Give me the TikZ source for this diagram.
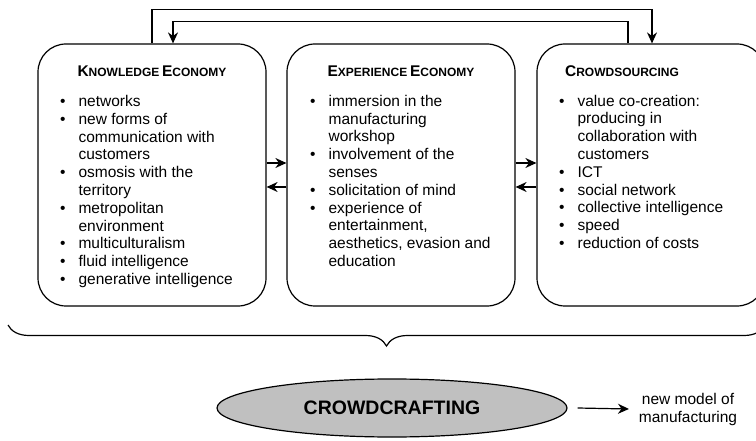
\documentclass[tikz,border=0pt]{standalone}
\usepackage{fontspec}
\setmainfont{Liberation Sans}
\usetikzlibrary{positioning,shapes.geometric,arrows.meta,decorations.pathreplacing}
\definecolor{craftgray}{HTML}{C0C0C0}
\newcommand{\fsc}[2]{{\fontsize{15.5}{18}\selectfont #1}{\fontsize{12}{18}\selectfont #2}}
\newcommand{\itm}{\llap{\textbullet\hspace{13pt}}}
\begin{document}
\begin{tikzpicture}[x=1pt, y=-1pt, line width=1.2pt, >={Stealth[length=11pt,width=10pt]},
    area/.style = {draw, rounded corners=28pt, minimum width=228pt, minimum height=262pt},
    head/.style = {font=\bfseries, anchor=base, inner sep=0pt},
    items/.style = {font=\fontsize{15.5}{17.8}\selectfont, align=left, anchor=base west, inner sep=0pt},
    craftnode/.style = {draw, ellipse, fill=craftgray, minimum width=350pt, minimum height=58pt,
                        font=\fontsize{19.5}{22}\selectfont\bfseries}]
    \useasboundingbox (0,0) rectangle (756,441);
    % three areas
    \node[area] (kbox) at (152,175) {};
    \node[area] (ebox) at (401,175) {};
    \node[area] (cbox) at (651,175) {};
    \node[head] (khead) at (152,76.5) {\fsc{K}{NOWLEDGE} \fsc{E}{CONOMY}};
    \node[head] (ehead) at (401,76.5) {\fsc{E}{XPERIENCE} \fsc{E}{CONOMY}};
    \node[head] (chead) at (622,76.5) {\fsc{C}{ROWDSOURCING}};
    % lists, placed by the baseline of their last line
    \node[items] (klist) at (78,284.5) {\itm networks\\ \itm new forms of\\ communication with\\ customers\\
        \itm osmosis with the\\ territory\\ \itm metropolitan\\ environment\\ \itm multiculturalism\\
        \itm fluid intelligence\\ \itm generative intelligence};
    \node[items] (elist) at (328,266.5) {\itm immersion in the\\ manufacturing\\ workshop\\
        \itm involvement of the\\ senses\\ \itm solicitation of mind\\ \itm experience of\\
        entertainment,\\ aesthetics, evasion and\\ education};
    \node[items] (clist) at (577,248.5) {\itm value co-creation:\\ producing in\\ collaboration with\\ customers\\
        \itm ICT\\ \itm social network\\ \itm collective intelligence\\ \itm speed\\ \itm reduction of costs};
    % links
    \draw[->] ([yshift=12pt]kbox.east) -- ([yshift=12pt]ebox.west);
    \draw[->] ([yshift=-12pt]ebox.west) -- ([yshift=-12pt]kbox.east);
    \draw[->] ([yshift=12pt]ebox.east) -- ([yshift=12pt]cbox.west);
    \draw[->] ([yshift=-12pt]cbox.west) -- ([yshift=-12pt]ebox.east);
    \draw[->] (kbox.north) -- ++(0,-34) -| ([xshift=1pt]cbox.north);
    \draw[->] ([xshift=-23pt]cbox.north) -- ++(0,-22) -| ([xshift=21pt]kbox.north);
    % brace and result
    \coordinate (bl) at (8,325);
    \coordinate (br) at (765,325);
    \draw[decorate, decoration={brace, mirror, amplitude=21pt}] (bl) -- (br);
    \node[craftnode] (craft) at (392,408) {CROWDCRAFTING};
    \node[font=\fontsize{15.5}{18}\selectfont, align=center] (outcome) at (688,409) {new model of\\ manufacturing};
    \draw[->] ([xshift=10pt]craft.east) -- ([xshift=-6pt]outcome.west);
\end{tikzpicture}
\end{document}
